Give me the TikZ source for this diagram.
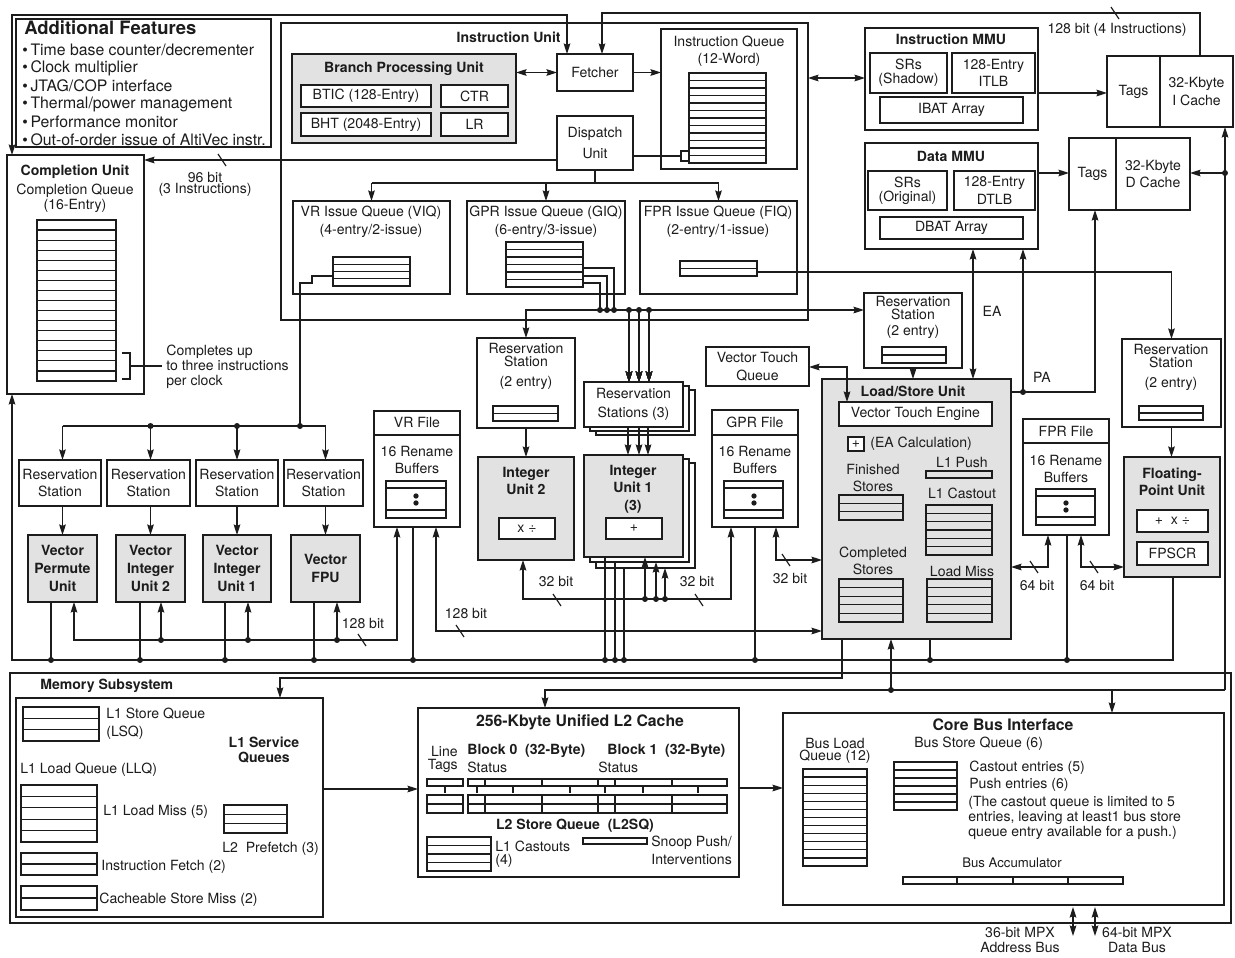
\documentclass[tikz,border=0pt]{standalone}
\usepackage{fontspec}
\setmainfont{TeX Gyre Heros}
\usetikzlibrary{arrows.meta,fit}

\definecolor{ink}{HTML}{1C1C1C}
\definecolor{unitgrey}{HTML}{E2E2E2}

\tikzset{
  blk/.style={draw=ink, fill=white, text=ink, line width=0.7pt, inner sep=0pt, outer sep=0pt,
    align=center, font=\fontsize{8}{10}\selectfont},
  gblk/.style={blk, fill=unitgrey},
  boldt/.style={font=\fontsize{8}{10}\selectfont\bfseries},
  mblk/.style={blk, line width=1.6pt},
  txt/.style={inner sep=0pt, text=ink, align=center, font=\fontsize{8}{10}\selectfont},
  btxt/.style={txt, font=\fontsize{8}{10}\selectfont\bfseries},
  ttl/.style={txt, font=\fontsize{9}{11}\selectfont\bfseries},
  wire/.style={draw=ink, line width=0.7pt},
  arr/.style={wire, -{Stealth[length=6pt,width=3.8pt,inset=0.8pt]}},
  darr/.style={wire, {Stealth[length=6pt,width=3.8pt,inset=0.8pt]}-{Stealth[length=6pt,width=3.8pt,inset=0.8pt]}},
}

% box from corner to corner, text centred in it
\newcommand{\bx}[7][blk]{%
  \node[#1, fit={(#3,#4) (#5,#6)}] (#2) {};
  \node[#1, draw=none, fill=none] (#2-t) at (#2.center) {#7};}
% queue with n rows
\newcommand{\qrows}[5]{%
  \draw[wire] (#1,#2) rectangle (#3,#4);
  \pgfmathtruncatemacro{\qlast}{#5-1}%
  \foreach \k in {1,...,\qlast}{%
    \pgfmathsetmacro{\qy}{#2+(#4-#2)*\k/#5}%
    \draw[wire] (#1,\qy) -- (#3,\qy);}}
\newcommand{\jn}[1]{\fill[ink] (#1) circle[radius=1.7pt];}
\newcommand{\bitmark}[1]{\draw[wire] (#1) ++(-4,-6) -- ++(8,12);}

\begin{document}
\begin{tikzpicture}[x=0.2mm, y=-0.2mm]
  \useasboundingbox (0,0) rectangle (1235,958);

  % ── Additional features ──
  \bx{feat}{16}{19}{271}{147}{}
  \node[txt, font=\fontsize{10.5}{12}\selectfont\bfseries, anchor=west] (featT) at (24,28) {Additional Features};
  \foreach \t [count=\i] in {Time base counter/decrementer, Clock multiplier, JTAG/COP interface,
      Thermal/power management, Performance monitor, Out-of-order issue of AltiVec instr.}
    \node[txt, font=\fontsize{9}{10}\selectfont, anchor=west] (fb\i) at (22,32+18*\i) {\textbullet\,\t};

  % ── Completion unit ──
  \bx{compl}{7}{155}{144}{394}{}
  \node[btxt] (complT) at (75,172) {Completion Unit};
  \node[txt] (complQ) at (75,191) {Completion Queue};
  \node[txt] (complE) at (75,206) {(16-Entry)};
  \qrows{37}{220}{116}{381}{16}
  \draw[wire] (122,353) -- (130,353) -- (130,379) -- (122,379);
  \draw[wire] (130,366) -- (162,366);
  \node[txt, anchor=west, align=left, font=\fontsize{8}{8.6}\selectfont] (complN) at (166,367)
    {Completes up\\to three instructions\\per clock};

  % ── Instruction unit ──
  \bx{iu}{281}{23}{808}{320}{}
  \node[btxt, anchor=east] (iuT) at (561,37) {Instruction Unit};
  \bx[gblk]{bpu}{292}{54}{516}{143}{}
  \node[btxt] (bpuT) at (404,69) {Branch Processing Unit};
  \bx{btic}{301}{85}{431}{107}{BTIC (128-Entry)}
  \bx{ctr}{441}{85}{508}{107}{CTR}
  \bx{bht}{301}{113}{431}{136}{BHT (2048-Entry)}
  \bx{lr}{441}{113}{508}{136}{LR}
  \bx{fetch}{557}{54}{633}{91}{Fetcher}
  \bx{disp}{557}{116}{633}{170}{Dispatch\\[2pt]Unit}
  \bx{iq}{661}{29}{797}{169}{}
  \node[txt] (iqT) at (729,42) {Instruction Queue};
  \node[txt] (iqE) at (729,60) {(12-Word)};
  \qrows{689}{73}{766}{163}{12}

  \bx{viq}{293}{201}{450}{294}{}
  \node[txt] (viqT) at (371,213) {VR Issue Queue (VIQ)};
  \node[txt] (viqE) at (371,231) {(4-entry/2-issue)};
  \qrows{333}{257}{410}{286}{4}
  \bx{giq}{467}{201}{625}{294}{}
  \node[txt] (giqT) at (546,213) {GPR Issue Queue (GIQ)};
  \node[txt] (giqE) at (546,231) {(6-entry/3-issue)};
  \qrows{506}{242}{583}{287}{6}
  \bx{fiq}{640}{201}{797}{294}{}
  \node[txt] (fiqT) at (718,213) {FPR Issue Queue (FIQ)};
  \node[txt] (fiqE) at (718,231) {(2-entry/1-issue)};
  \qrows{680}{261}{757}{276}{2}

  % ── MMUs and L1 caches ──
  \bx{immu}{865}{28}{1038}{130}{}
  \node[btxt] (immuT) at (951,39) {Instruction MMU};
  \bx[blk, font=\fontsize{8}{7.8}\selectfont]{isr}{870}{53}{947}{93}{SRs\\(Shadow)}
  \bx{itlb}{952}{53}{1035}{93}{128-Entry\\ITLB}
  \bx{ibat}{880}{97}{1023}{123}{IBAT Array}
  \bx{itag}{1107}{56}{1160}{127}{Tags}
  \bx{icache}{1160}{56}{1233}{127}{32-Kbyte\\I Cache}

  \bx{dmmu}{865}{143}{1038}{249}{}
  \node[btxt] (dmmuT) at (951,156) {Data MMU};
  \bx[blk, font=\fontsize{8}{7.8}\selectfont]{dsr}{868}{171}{947}{210}{SRs\\(Original)}
  \bx{dtlb}{954}{171}{1035}{210}{128-Entry\\DTLB}
  \bx{dbat}{880}{217}{1023}{239}{DBAT Array}
  \bx{dtag}{1069}{138}{1116}{210}{Tags}
  \bx{dcache}{1116}{138}{1190}{210}{32-Kbyte\\D Cache}

  % ── Vector units ──
  \foreach \n/\ra/\rb/\ua/\ub/\lbl in {1/19/101/28/97/{Vector\\Permute\\Unit},
      2/107/190/116/185/{Vector\\Integer\\Unit 2}, 3/196/278/203/271/{Vector\\Integer\\Unit 1},
      4/284/363/291/360/{Vector\\FPU}} {
    \bx{vrs\n}{\ra}{460}{\rb}{506}{Reservation\\Station}
    \bx[gblk, boldt]{vu\n}{\ua}{535}{\ub}{602}{\lbl}
    \draw[arr] (vu\n.north |- vrs\n.south) -- (vu\n.north);
  }

  % ── Register files ──
  \bx{vrf}{374}{411}{460}{527}{}
  \draw[wire] (vrf.west |- 0,435) -- (vrf.east |- 0,435);
  \node[txt] (vrfT) at (417,422) {VR File};
  \node[txt] (vrfR) at (417,460) {16 Rename\\Buffers};
  \draw[wire] (386,481) rectangle (446,518) (386,488) -- (446,488) (386,510) -- (446,510);
  \fill[ink] (416,496) circle[radius=1.5pt] (416,503) circle[radius=1.5pt];

  \bx{gpr}{712}{410}{798}{527}{}
  \draw[wire] (gpr.west |- 0,435) -- (gpr.east |- 0,435);
  \node[txt] (gprT) at (755,422) {GPR File};
  \node[txt] (gprR) at (755,460) {16 Rename\\Buffers};
  \draw[wire] (724,481) rectangle (783,518) (724,488) -- (783,488) (724,510) -- (783,510);
  \fill[ink] (754,496) circle[radius=1.5pt] (754,503) circle[radius=1.5pt];

  \bx{fpr}{1023}{419}{1109}{535}{}
  \draw[wire] (fpr.west |- 0,443) -- (fpr.east |- 0,443);
  \node[txt] (fprT) at (1066,431) {FPR File};
  \node[txt] (fprR) at (1066,469) {16 Rename\\Buffers};
  \draw[wire] (1036,489) rectangle (1095,525) (1036,496) -- (1095,496) (1036,517) -- (1095,517);
  \fill[ink] (1066,503) circle[radius=1.5pt] (1066,510) circle[radius=1.5pt];

  % ── Integer units ──
  \bx{irs}{477}{338}{575}{428}{}
  \node[txt] (irsT) at (526,348) {Reservation};
  \node[txt] (irsS) at (526,361) {Station};
  \node[txt] (irsE) at (526,383) {(2 entry)};
  \qrows{493}{406}{558}{421}{2}
  \bx[gblk]{iu2}{478}{457}{574}{560}{}
  \node[btxt] (iu2T) at (526,481) {Integer\\Unit 2};
  \bx{mul2}{499}{518}{555}{539}{x ÷}

  \bx{rs3c}{596}{390}{695}{435}{}
  \bx{rs3b}{590}{386}{689}{431}{}
  \bx{rs3}{584}{382}{683}{427}{Reservation\\[1pt]Stations (3)}
  \bx{iu1c}{596}{463}{695}{568}{}
  \bx{iu1b}{590}{459}{689}{562}{}
  \bx[gblk]{iu1}{584}{455}{683}{557}{}
  \node[btxt] (iu1T) at (633,489) {Integer\\Unit 1\\(3)};
  \bx{add1}{606}{518}{662}{539}{+}

  \bx{vtq}{706}{347}{809}{386}{Vector Touch\\Queue}

  % ── Load/store unit ──
  \bx{lrs}{864}{293}{962}{368}{}
  \node[txt] (lrsT) at (913,301) {Reservation};
  \node[txt] (lrsS) at (913,314) {Station};
  \node[txt] (lrsE) at (913,332) {(2 entry)};
  \qrows{882}{347}{946}{363}{2}
  \bx[gblk]{lsu}{822}{379}{1011}{639}{}
  \node[btxt] (lsuT) at (913,391) {Load/Store Unit};
  \bx{vte}{839}{402}{992}{426}{Vector Touch Engine}
  \bx{eap}{848}{437}{864}{451}{+}
  \node[txt, anchor=west] (eaT) at (870,444) {(EA Calculation)};
  \node[txt] (finT) at (873,478) {Finished\\Stores};
  \qrows{839}{495}{903}{520}{3}
  \node[txt] (pushT) at (962,462) {L1 Push};
  \draw[wire] (926,471) rectangle (992,478);
  \node[txt] (castT) at (962,493) {L1 Castout};
  \qrows{926}{505}{992}{555}{6}
  \node[txt] (cmpT) at (873,561) {Completed\\Stores};
  \qrows{839}{579}{903}{622}{5}
  \node[txt] (missT) at (962,571) {Load Miss};
  \qrows{927}{579}{992}{622}{5}

  % ── Floating point ──
  \bx{frs}{1122}{339}{1221}{427}{}
  \node[txt] (frsT) at (1171,349) {Reservation};
  \node[txt] (frsS) at (1171,362) {Station};
  \node[txt] (frsE) at (1171,384) {(2 entry)};
  \qrows{1139}{406}{1203}{420}{2}
  \bx[gblk]{fpu}{1124}{457}{1220}{577}{}
  \node[btxt] (fpuT) at (1172,482) {Floating-\\Point Unit};
  \bx{fmul}{1137}{510}{1208}{532}{+ \ x ÷}
  \bx{fpscr}{1137}{542}{1208}{565}{FPSCR}

  % ── Memory subsystem ──
  \bx[mblk]{mem}{10}{673}{1231}{923}{}
  \node[btxt, anchor=west] (memT) at (40,686) {Memory Subsystem};
  \bx{l1sq}{16}{698}{323}{917}{}
  \qrows{23}{707}{99}{741}{3}
  \node[txt, anchor=west] (lsqT) at (106,714) {L1 Store Queue};
  \node[txt, anchor=west] (lsqE) at (106,733) {(LSQ)};
  \node[btxt, font=\fontsize{8}{8.8}\selectfont\bfseries] (l1sqT) at (264,750) {L1 Service\\Queues};
  \node[txt, anchor=west] (llqT) at (20,770) {L1 Load Queue (LLQ)};
  \qrows{21}{785}{97}{842}{5}
  \node[txt, anchor=west] (lmT) at (103,812) {L1 Load Miss (5)};
  \qrows{21}{853}{97}{875}{2}
  \node[txt, anchor=west] (ifT) at (101,867) {Instruction Fetch (2)};
  \qrows{21}{886}{97}{910}{2}
  \node[txt, anchor=west] (csT) at (99,900) {Cacheable Store Miss (2)};
  \qrows{224}{805}{287}{833}{3}
  \node[txt, anchor=west] (pfT) at (222,849) {L2\ \ Prefetch (3)};

  \bx{l2}{418}{708}{739}{877}{}
  \node[ttl] (l2T) at (580,722) {256-Kbyte Unified L2 Cache};
  \node[txt, anchor=east] (lineT) at (458,751) {Line};
  \node[txt, anchor=east] (tagsT) at (458,766) {Tags};
  \node[btxt, anchor=west] (b0T) at (467,751) {Block 0\ \ (32-Byte)};
  \node[txt, anchor=west] (s0T) at (467,767) {Status};
  \node[btxt, anchor=west] (b1T) at (607,751) {Block 1\ \ (32-Byte)};
  \node[txt, anchor=west] (s1T) at (598,767) {Status};
  \draw[wire] (427,779) rectangle (463,786) (468,779) rectangle (727,786);
  \draw[wire] (427,795) rectangle (463,813) (468,795) rectangle (727,813);
  \draw[wire] (427,804) -- (463,804) (468,804) -- (727,804);
  \foreach \x in {485,542,598,615,672} \draw[wire] (\x,779) -- (\x,786) (\x,795) -- (\x,813);
  \foreach \x in {445,477,513,570,605,643,698} \draw[wire] (\x,787) -- (\x,793);
  \node[btxt] (l2sqT) at (575,826) {L2 Store Queue\ \ (L2SQ)};
  \qrows{427}{837}{491}{871}{4}
  \node[txt, anchor=west] (l1cT) at (495,846) {L1 Castouts};
  \node[txt, anchor=west] (l1cE) at (495,861) {(4)};
  \draw[wire] (583,838) rectangle (647,844);
  \node[txt, anchor=west] (snT) at (651,843) {Snoop Push/};
  \node[txt, anchor=west] (snE) at (651,859) {Interventions};

  \bx{cbi}{783}{713}{1224}{905}{}
  \node[ttl] (cbiT) at (1003,725) {Core Bus Interface};
  \node[txt] (blqT) at (835,743) {Bus Load};
  \node[txt] (blqE) at (835,757) {Queue (12)};
  \qrows{803}{769}{867}{866}{12}
  \node[txt, anchor=west] (bsqT) at (914,744) {Bus Store Queue (6)};
  \qrows{894}{762}{957}{810}{6}
  \node[txt, anchor=west] (coT) at (969,768) {Castout entries (5)};
  \node[txt, anchor=west] (puT) at (969,785) {Push entries (6)};
  \node[txt, anchor=west, align=left, font=\fontsize{8}{8.4}\selectfont] (noteT) at (968,818)
    {(The castout queue is limited to 5\\entries, leaving at least1 bus store\\queue entry available for a push.)};
  \node[txt, font=\fontsize{7.5}{9}\selectfont] (accT) at (1012,863) {Bus Accumulator};
  \draw[wire] (903,877) rectangle (1123,884);
  \foreach \x in {957,1013,1068} \draw[wire] (\x,877) -- (\x,884);

  % ── Connections: instruction side ──
  \draw[darr] (compl.north -| 12,0) -- (12,15) -- (567,15) -- (fetch.north -| 567,0);
  \draw[arr] (icache.north -| 1200,0) -- (1200,13) -- (602,13) -- (fetch.north -| 602,0);
  \bitmark{1115,13}
  \node[txt] (w128i) at (1117,30) {128 bit (4 Instructions)};
  \draw[darr] (bpu.east |- fetch.west) -- (fetch.west);
  \draw[arr] (fetch.east) -- (fetch.east -| iq.west);
  \draw[darr] (iu.east |- 0,78) -- (immu.west |- 0,78);
  \draw[arr] (immu.east |- 0,93) -- (itag.west |- 0,93);
  \draw[arr] (dmmu.east |- 0,173) -- (dtag.west |- 0,173);

  \coordinate (iqb) at (681,156);
  \draw[wire] (disp.east |- iqb) -- (iqb);
  \draw[wire] (689,151) -- (681,151) -- (681,161) -- (689,161);
  \draw[arr] (disp.west |- 0,160) -- (compl.east |- 0,160);
  \bitmark{222,160}
  \node[txt] (w96) at (205,177) {96 bit};
  \node[txt] (w96i) at (205,190) {(3 Instructions)};

  \coordinate (dsp) at (595,183);
  \draw[wire] (disp.south) -- (disp.south |- dsp);
  \draw[wire] (viq.north |- dsp) -- (fiq.north |- dsp);
  \foreach \q in {viq,giq,fiq} \draw[arr] (\q.north |- dsp) -- (\q.north);

  % ── Issue to reservation stations ──
  \draw[wire] (333,276) -- (312,276) -- (312,283) -- (300,283) -- (300,426);
  \draw[wire] (vu1.north |- 0,426) -- (vu4.north |- 0,426);
  \foreach \n in {1,...,4} \draw[arr] (vu\n.north |- 0,426) -- (vu\n.north |- vrs\n.north);
  \jn{vu2.north |- 0,426} \jn{vu3.north |- 0,426} \jn{300,426}

  \draw[wire] (583,268) -- (614,268) -- (614,310);
  \draw[wire] (583,276) -- (607,276) -- (607,310);
  \draw[wire] (583,283) -- (600,283) -- (600,310);
  \draw[arr] (600,310) -- (irs.north |- 0,310) -- (irs.north);
  \draw[arr] (600,310) -- (lrs.west |- 0,310);
  \foreach \x in {600,607,614,629,639,649} \jn{\x,310}
  \foreach \x in {629,639,649} \draw[arr] (\x,310) -- (rs3.north -| \x,0);
  \foreach \x in {628,639,648} \draw[arr] (rs3.south -| \x,0) -- (iu1.north -| \x,0);
  \draw[arr] (irs.south) -- (iu2.north);

  \draw[arr] (757,272) -- (frs.north |- 0,272) -- (frs.north);
  \draw[arr] (frs.south) -- (frs.south |- fpu.north);

  % ── Load/store connections ──
  \draw[arr] (lrs.south) -- (lsu.north -| lrs.south);
  \draw[darr] (vtq.east |- 0,367) -- (847,367) -- (vte.north -| 847,0);
  \draw[darr] (lsu.north -| 973,0) -- (dmmu.south -| 973,0);
  \node[txt] (eaL) at (992,311) {EA};
  \draw[arr] (lsu.east |- 0,392) -- (1095,392) -- (dtag.south -| 1095,0);
  \jn{1023,392}
  \draw[arr] (1023,392) -- (dmmu.south -| 1023,0);
  \node[txt] (paL) at (1042,377) {PA};

  % ── Operand buses ──
  \draw[arr] (645,599) -- (523,599) -- (iu2.south -| 523,0);
  \draw[arr] (645,599) -- (731,599) -- (gpr.south -| 731,0);
  \draw[arr] (645,599) -- (iu1.south -| 645,0);
  \draw[arr] (656,599) -- (iu1b.south -| 656,0);
  \draw[arr] (665,599) -- (iu1c.south -| 665,0);
  \jn{645,599} \jn{656,599} \jn{665,599}
  \bitmark{557,600} \bitmark{699,600}
  \node[txt] (w32a) at (556,581) {32 bit};
  \node[txt] (w32b) at (697,581) {32 bit};
  \draw[darr] (gpr.south -| 776,0) -- (776,560) -- (lsu.west |- 0,560);
  \bitmark{786,560}
  \node[txt] (w32c) at (790,578) {32 bit};

  \draw[darr] (vrf.south -| 436,0) -- (436,631) -- (lsu.west |- 0,631);
  \bitmark{460,631}
  \node[txt] (w128b) at (466,613) {128 bit};
  \draw[darr] (vu1.south -| 74,0) -- (74,640) -- (397,640) -- (vrf.south -| 397,0);
  \foreach \x/\u in {161/vu2, 248/vu3, 337/vu4} {\jn{\x,640} \draw[arr] (\x,640) -- (\u.south -| \x,0);}
  \bitmark{362,640}
  \node[txt] (w128a) at (363,623) {128 bit};

  \draw[darr] (fpr.south -| 1048,0) -- (1048,567) -- (lsu.east |- 0,567);
  \bitmark{1034,567}
  \node[txt] (w64a) at (1037,585) {64 bit};
  \draw[darr] (fpr.south -| 1081,0) -- (1081,567) -- (fpu.west |- 0,567);
  \bitmark{1094,567}
  \node[txt] (w64b) at (1097,585) {64 bit};

  % ── Result bus to completion ──
  \draw[arr] (fpu.south -| 1173,0) -- (1173,660) -- (12,660) -- (compl.south -| 12,0);
  \foreach \x/\u in {51/vu1, 140/vu2, 225/vu3, 314/vu4, 413/vrf, 755/gpr, 930/lsu, 1067/fpr}
    {\draw[wire] (\u.south -| \x,0) -- (\x,660); \jn{\x,660}}
  \draw[wire] (iu1.south -| 605,0) -- (605,660);
  \draw[wire] (iu1b.south -| 615,0) -- (615,660);
  \draw[wire] (iu1c.south -| 624,0) -- (624,660);
  \jn{605,660} \jn{615,660} \jn{624,660}

  % ── Memory side ──
  \draw[arr] (lsu.south -| 842,0) -- (842,678) -- (280,678) -- (l1sq.north -| 280,0);
  \draw[arr] (1225,690) -- (icache.south -| 1225,0);
  \jn{1225,173}
  \draw[arr] (1225,173) -- (dcache.east |- 0,173);
  \draw[arr] (1225,690) -- (545,690) -- (l2.north -| 545,0);
  \jn{891,690}
  \draw[arr] (891,690) -- (lsu.south -| 891,0);
  \draw[arr] (1112,690) -- (cbi.north -| 1112,0);
  \draw[arr] (l1sq.east |- 0,789) -- (l2.west |- 0,789);
  \draw[arr] (l2.east |- 0,788) -- (cbi.west |- 0,788);

  \draw[darr] (1073,907) -- (1073,936);
  \draw[darr] (1095,907) -- (1095,936);
  \node[txt, font=\fontsize{8}{8.6}\selectfont] (abusT) at (1020,940) {36-bit MPX\\Address Bus};
  \node[txt, font=\fontsize{8}{8.6}\selectfont] (dbusT) at (1137,940) {64-bit MPX\\Data Bus};
\end{tikzpicture}
\end{document}
